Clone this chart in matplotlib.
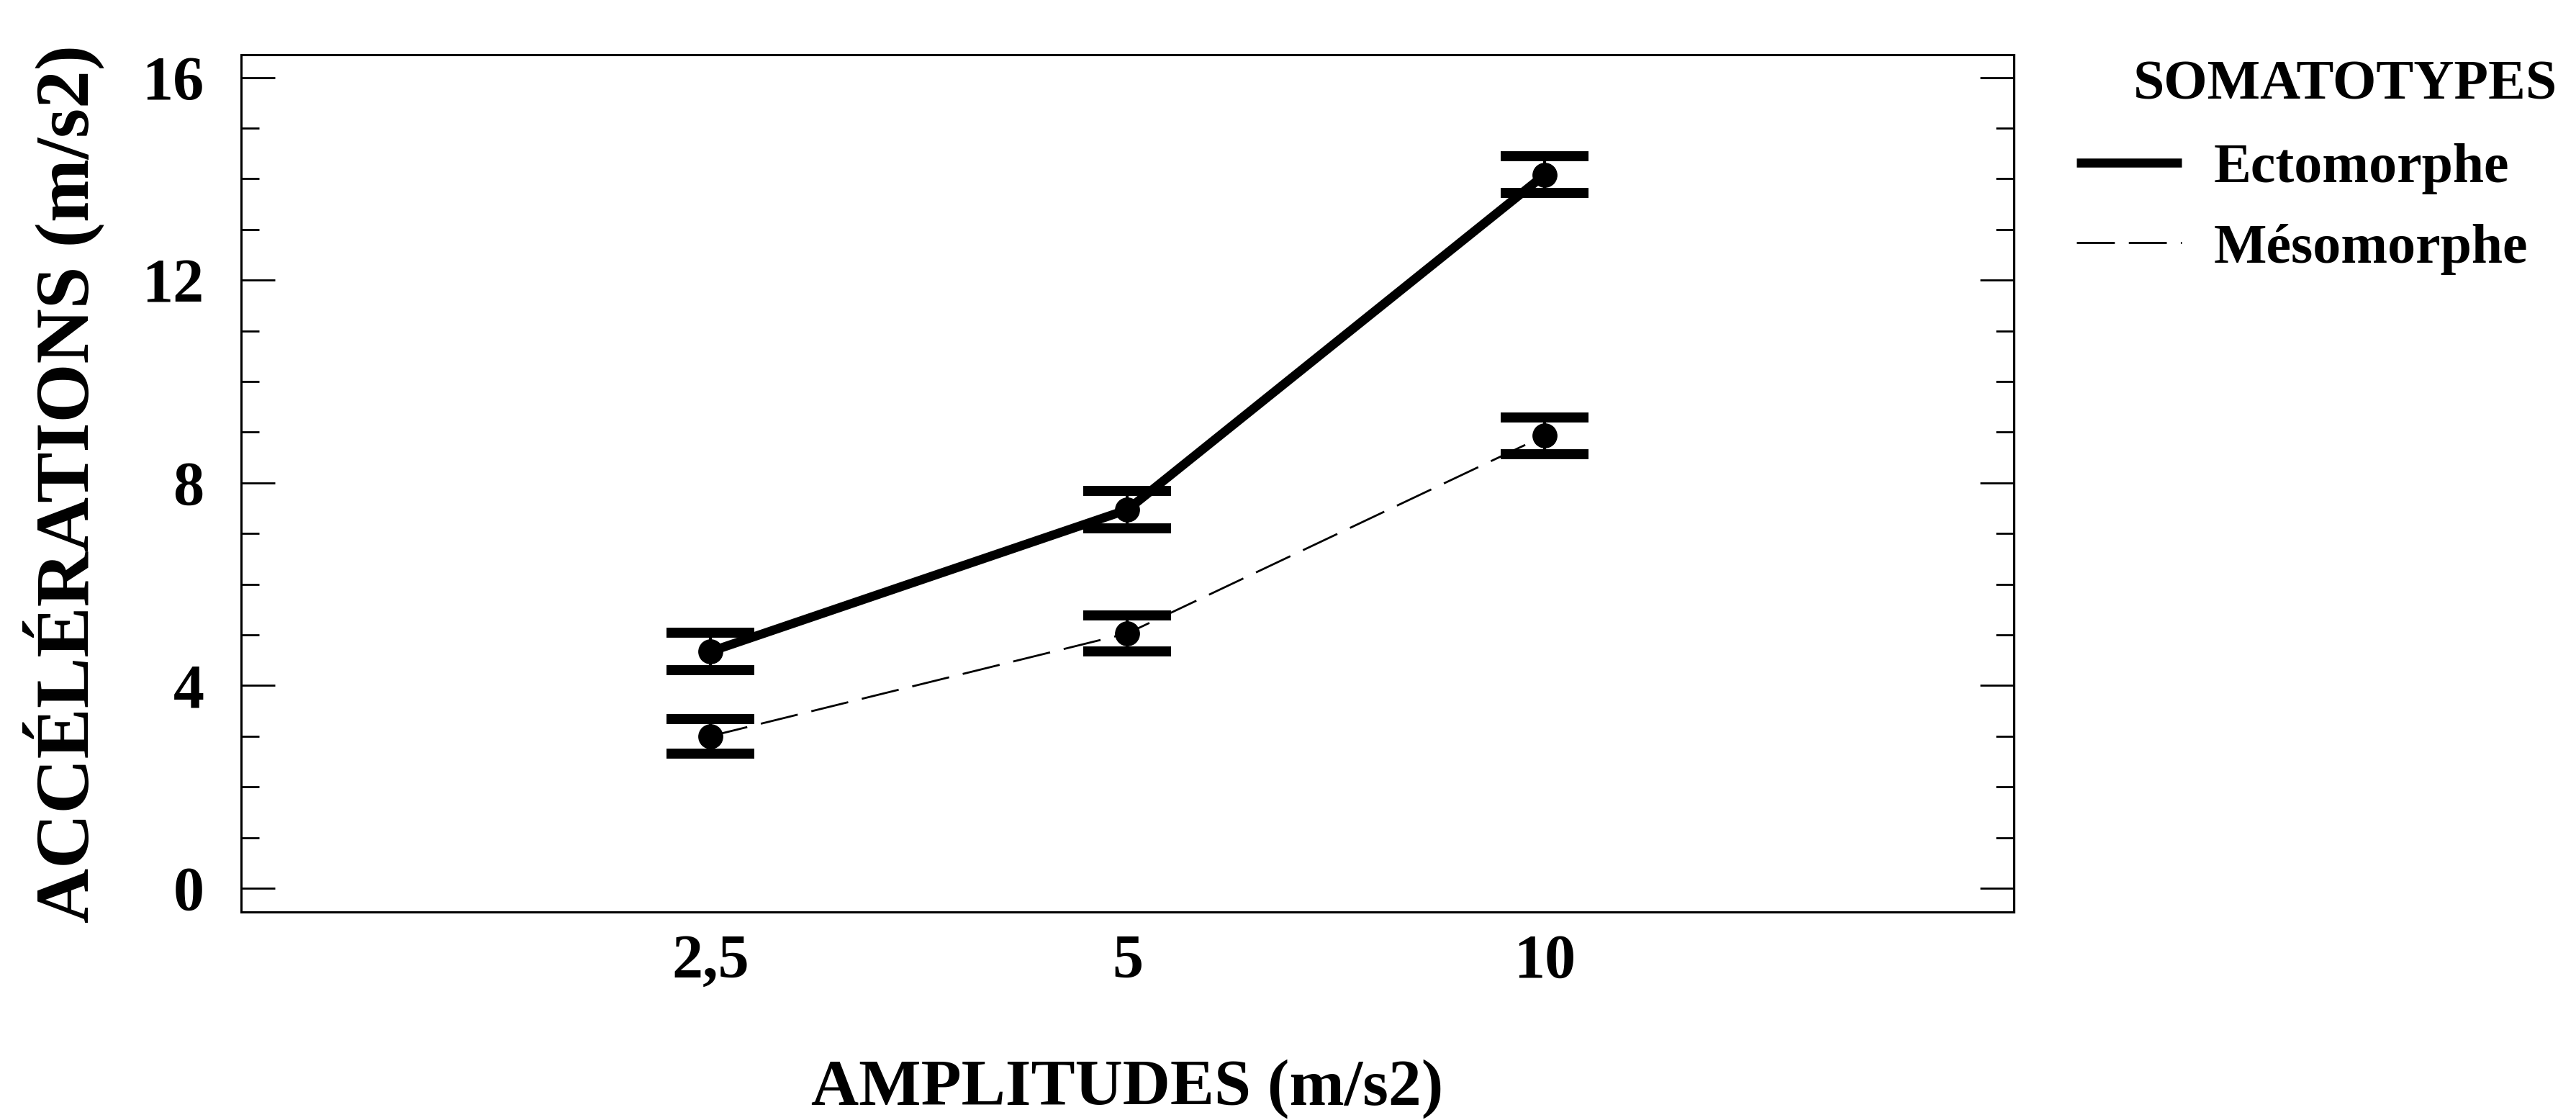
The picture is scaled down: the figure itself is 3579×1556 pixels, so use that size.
import numpy as np
import matplotlib
matplotlib.use('Agg')
import matplotlib.pyplot as plt
from matplotlib.ticker import MultipleLocator

plt.rcParams['font.family'] = ['Liberation Serif', 'DejaVu Serif']
plt.rcParams['font.weight'] = 'bold'
plt.rcParams['axes.labelweight'] = 'bold'

# data
amplitudes = ['2,5', '5', '10']
ecto_mean = [4.67, 7.47, 14.08]
ecto_err = [0.37, 0.37, 0.36]
meso_mean = [3.00, 5.03, 8.93]
meso_err = [0.34, 0.36, 0.36]

W, H = 3580, 1556
fig = plt.figure(figsize=(W / 100, H / 100), dpi=100)
# axes box in pixels: left 335, right 2798, top 76, bottom 1267
ax = fig.add_axes([335 / W, 1 - 1267 / H, (2798 - 335) / W, (1267 - 76) / H])

ax.plot(amplitudes, ecto_mean, color='black', lw=9, ls='-', label='Ectomorphe',
        solid_capstyle='butt')
ax.plot(amplitudes, meso_mean, color='black', lw=2, ls=(0, (19, 7)), label='Mésomorphe')

for mean, err in [(ecto_mean, ecto_err), (meso_mean, meso_err)]:
    ax.errorbar(amplitudes, mean, yerr=err, fmt='o', color='black', markersize=24,
                elinewidth=3, capsize=44, capthick=10, zorder=3)

ax.set_xlim(-1.125, 3.125)
ax.set_ylim(-0.47, 16.45)

ax.yaxis.set_major_locator(MultipleLocator(4))
ax.yaxis.set_minor_locator(MultipleLocator(1))
ax.tick_params(axis='y', which='major', direction='in', length=34, width=2,
               left=True, right=True, labelsize=62, pad=37)
ax.tick_params(axis='y', which='minor', direction='in', length=18, width=2,
               left=True, right=True)
ax.tick_params(axis='x', length=0, labelsize=62, pad=22)

for sp in ax.spines.values():
    sp.set_linewidth(2.2)

ax.set_xlabel('AMPLITUDES (m/s2)', fontsize=66, fontweight='bold')
ax.xaxis.label.set_verticalalignment('baseline')
ax.xaxis.set_label_coords(0.5, (1267 - 1535) / (1267 - 76))

ax.set_ylabel('ACCÉLÉRATIONS (m/s2)', fontsize=76, fontweight='bold')
ax.yaxis.label.set_verticalalignment('baseline')
ax.yaxis.set_label_coords((122 - 335) / (2798 - 335), 0.5)

fig.text(2964 / W, 1 - 138 / H, 'SOMATOTYPES', ha='left', va='baseline', fontsize=56)
ax.legend(loc='upper left', bbox_to_anchor=(2885 / W, 1 - 199 / H),
          bbox_transform=fig.transFigure, frameon=False, fontsize=56,
          handlelength=1.88, handletextpad=0.57, labelspacing=0.51,
          borderpad=0, borderaxespad=0)

fig.savefig('out.png', dpi=100, facecolor='white')
